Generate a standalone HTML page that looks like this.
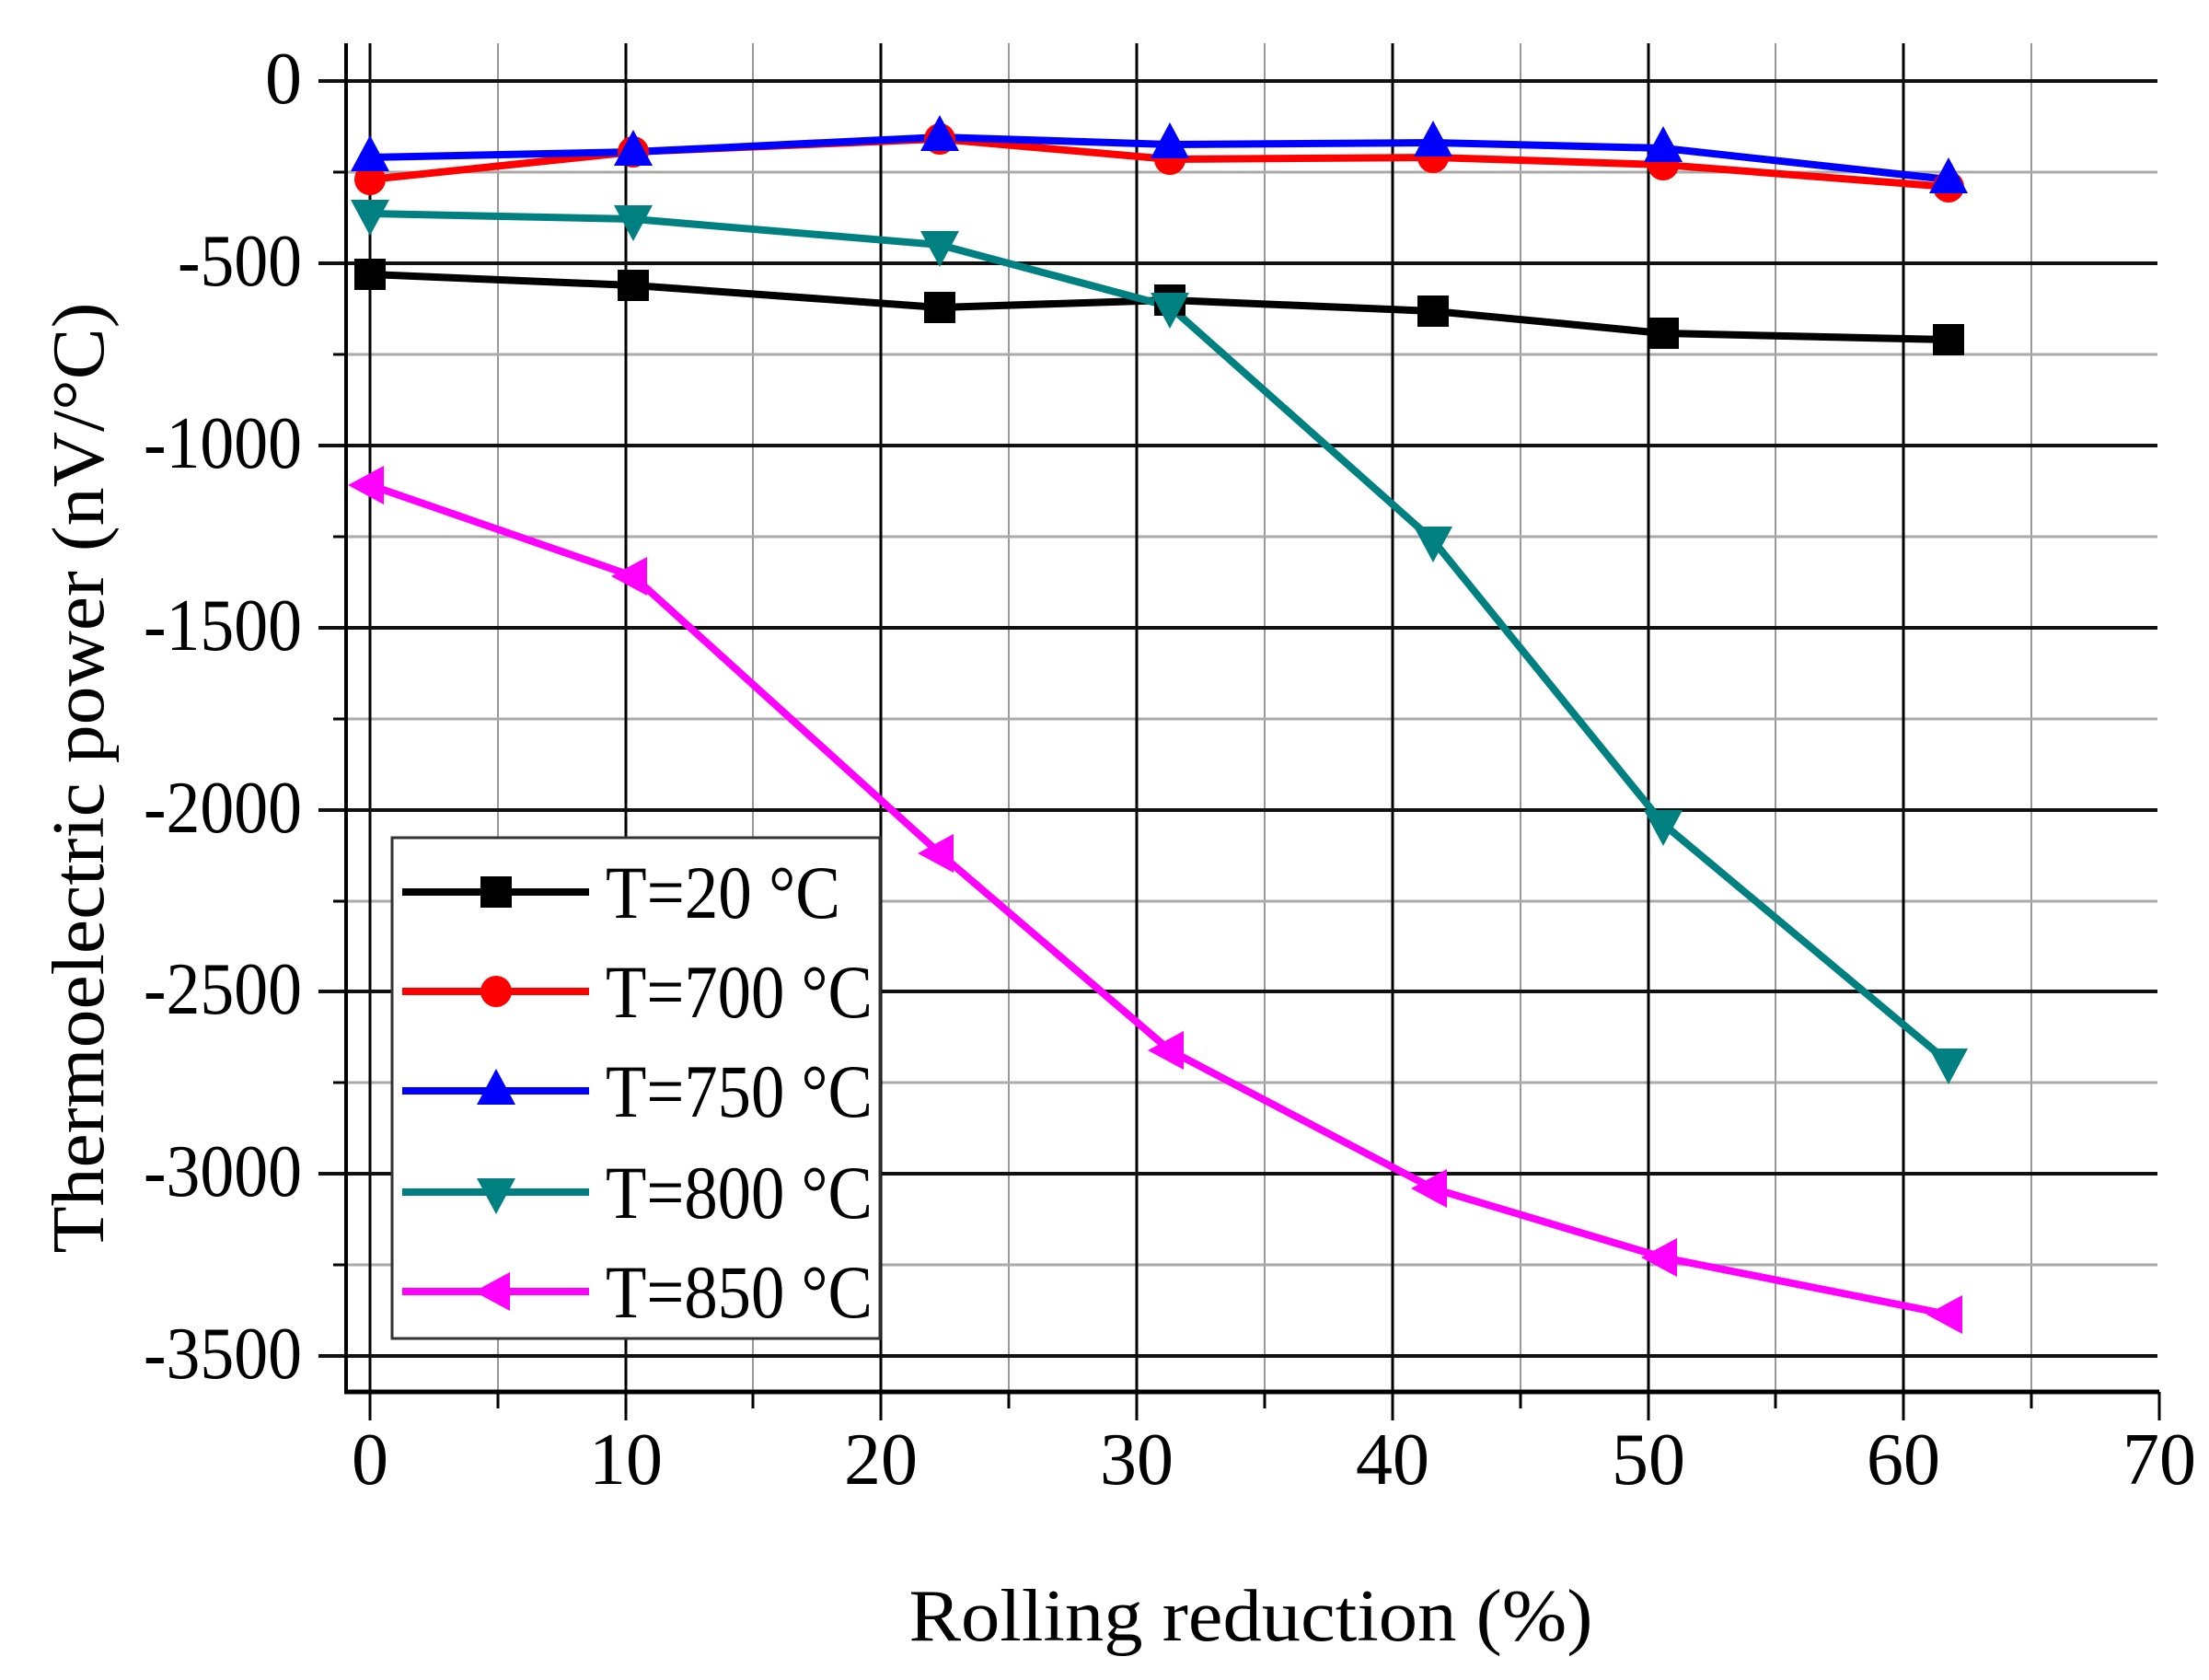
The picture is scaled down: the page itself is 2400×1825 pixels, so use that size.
<!DOCTYPE html>
<html><head><meta charset="utf-8"><style>html,body{margin:0;padding:0;background:#fff}svg{display:block}</style></head><body>
<svg width="2400" height="1825" viewBox="0 0 2400 1825" xmlns="http://www.w3.org/2000/svg" font-family="Liberation Serif, serif">
<defs>
<g id="sq"><rect x="-17" y="-17" width="34" height="34" fill="#000"/></g>
<g id="ci"><ellipse cx="0" cy="0" rx="17" ry="17" fill="#f00"/></g>
<g id="tu"><polygon points="0,-24 21,15 -21,15" fill="#00f"/></g>
<g id="td"><polygon points="0,24 21,-15 -21,-15" fill="#008080"/></g>
<g id="tl"><polygon points="-24,0 15,-21 15,21" fill="#f0f"/></g>
</defs>
<g id="grid">
<g stroke="#999" stroke-width="2">
<line x1="541" y1="47" x2="541" y2="1512"/><line x1="818" y1="47" x2="818" y2="1512"/><line x1="1096" y1="47" x2="1096" y2="1512"/><line x1="1374" y1="47" x2="1374" y2="1512"/><line x1="1652" y1="47" x2="1652" y2="1512"/><line x1="1929" y1="47" x2="1929" y2="1512"/><line x1="2207" y1="47" x2="2207" y2="1512"/>
</g>
<g stroke="#aaa" stroke-width="3">
<line x1="376" y1="187" x2="2344" y2="187"/><line x1="376" y1="385" x2="2344" y2="385"/><line x1="376" y1="583" x2="2344" y2="583"/><line x1="376" y1="781" x2="2344" y2="781"/><line x1="376" y1="979" x2="2344" y2="979"/><line x1="376" y1="1176" x2="2344" y2="1176"/><line x1="376" y1="1374" x2="2344" y2="1374"/>
</g>
<g stroke="#000" stroke-width="3">
<line x1="402" y1="47" x2="402" y2="1543"/><line x1="680" y1="47" x2="680" y2="1543"/><line x1="957" y1="47" x2="957" y2="1543"/><line x1="1235" y1="47" x2="1235" y2="1543"/><line x1="1513" y1="47" x2="1513" y2="1543"/><line x1="1791" y1="47" x2="1791" y2="1543"/><line x1="2068" y1="47" x2="2068" y2="1543"/><line x1="2346" y1="1512" x2="2346" y2="1543"/>
</g>
<g stroke="#000" stroke-width="3">
<line x1="541" y1="1512" x2="541" y2="1530"/><line x1="818" y1="1512" x2="818" y2="1530"/><line x1="1096" y1="1512" x2="1096" y2="1530"/><line x1="1374" y1="1512" x2="1374" y2="1530"/><line x1="1652" y1="1512" x2="1652" y2="1530"/><line x1="1929" y1="1512" x2="1929" y2="1530"/><line x1="2207" y1="1512" x2="2207" y2="1530"/>
</g>
<g stroke="#111" stroke-width="4">
<line x1="346" y1="88" x2="2344" y2="88"/><line x1="346" y1="286" x2="2344" y2="286"/><line x1="346" y1="484" x2="2344" y2="484"/><line x1="346" y1="682" x2="2344" y2="682"/><line x1="346" y1="880" x2="2344" y2="880"/><line x1="346" y1="1077" x2="2344" y2="1077"/><line x1="346" y1="1275" x2="2344" y2="1275"/><line x1="346" y1="1473" x2="2344" y2="1473"/>
</g>
<g stroke="#000" stroke-width="3">
<line x1="362" y1="187" x2="376" y2="187"/><line x1="362" y1="385" x2="376" y2="385"/><line x1="362" y1="583" x2="376" y2="583"/><line x1="362" y1="781" x2="376" y2="781"/><line x1="362" y1="979" x2="376" y2="979"/><line x1="362" y1="1176" x2="376" y2="1176"/><line x1="362" y1="1374" x2="376" y2="1374"/>
</g>
<line x1="376" y1="47" x2="376" y2="1514" stroke="#000" stroke-width="4"/>
<line x1="374" y1="1512" x2="2346" y2="1512" stroke="#000" stroke-width="5"/>
</g>
<g fill="none" stroke-width="8" stroke-linejoin="round">
<polyline stroke="#000" points="402,298 688,310 1021,334 1271,326 1557,338 1807,362 2117,369"/>
<polyline stroke="#f00" points="402,195 688,165 1021,151 1271,173 1557,171 1807,179 2117,203"/>
<polyline stroke="#00f" points="402,171 688,165 1021,149 1271,157 1557,155 1807,161 2117,195"/>
<polyline stroke="#008080" points="402,232 688,238 1021,266 1271,333 1557,587 1807,895 2117,1154"/>
<polyline stroke="#f0f" points="402,527 688,626 1021,927 1271,1141 1557,1291 1807,1366 2117,1428"/>
</g>
<g>
<use href="#sq" x="402" y="298"/><use href="#sq" x="688" y="310"/><use href="#sq" x="1021" y="334"/><use href="#sq" x="1271" y="326"/><use href="#sq" x="1557" y="338"/><use href="#sq" x="1807" y="362"/><use href="#sq" x="2117" y="369"/>
<use href="#ci" x="402" y="195"/><use href="#ci" x="688" y="165"/><use href="#ci" x="1021" y="151"/><use href="#ci" x="1271" y="173"/><use href="#ci" x="1557" y="171"/><use href="#ci" x="1807" y="179"/><use href="#ci" x="2117" y="203"/>
<use href="#tu" x="402" y="171"/><use href="#tu" x="688" y="165"/><use href="#tu" x="1021" y="149"/><use href="#tu" x="1271" y="157"/><use href="#tu" x="1557" y="155"/><use href="#tu" x="1807" y="161"/><use href="#tu" x="2117" y="195"/>
<use href="#td" x="402" y="232"/><use href="#td" x="688" y="238"/><use href="#td" x="1021" y="266"/><use href="#td" x="1271" y="333"/><use href="#td" x="1557" y="587"/><use href="#td" x="1807" y="895"/><use href="#td" x="2117" y="1154"/>
<use href="#tl" x="402" y="527"/><use href="#tl" x="688" y="626"/><use href="#tl" x="1021" y="927"/><use href="#tl" x="1271" y="1141"/><use href="#tl" x="1557" y="1291"/><use href="#tl" x="1807" y="1366"/><use href="#tl" x="2117" y="1428"/>
</g>
<rect x="426" y="910" width="530" height="544" fill="#fff" stroke="#333" stroke-width="3"/>
<g stroke-width="8">
<line x1="437" y1="969" x2="640" y2="969" stroke="#000"/>
<line x1="437" y1="1077" x2="640" y2="1077" stroke="#f00"/>
<line x1="437" y1="1185" x2="640" y2="1185" stroke="#00f"/>
<line x1="437" y1="1295" x2="640" y2="1295" stroke="#008080"/>
<line x1="437" y1="1403" x2="640" y2="1403" stroke="#f0f"/>
</g>
<use href="#sq" x="539" y="969"/><use href="#ci" x="539" y="1077"/><use href="#tu" x="539" y="1185"/><use href="#td" x="539" y="1295"/><use href="#tl" x="539" y="1403"/>
<g font-size="82" fill="#000">
<text x="658" y="997" textLength="255" lengthAdjust="spacingAndGlyphs">T=20 °C</text>
<text x="658" y="1105" textLength="290" lengthAdjust="spacingAndGlyphs">T=700 °C</text>
<text x="658" y="1213" textLength="290" lengthAdjust="spacingAndGlyphs">T=750 °C</text>
<text x="658" y="1323" textLength="290" lengthAdjust="spacingAndGlyphs">T=800 °C</text>
<text x="658" y="1431" textLength="290" lengthAdjust="spacingAndGlyphs">T=850 °C</text>
</g>
<g font-size="80" fill="#000" text-anchor="end" lengthAdjust="spacingAndGlyphs">
<text x="328" y="112">0</text>
<text x="328" y="310" textLength="135" lengthAdjust="spacingAndGlyphs">-500</text>
<text x="328" y="508" textLength="172" lengthAdjust="spacingAndGlyphs">-1000</text>
<text x="328" y="706" textLength="172" lengthAdjust="spacingAndGlyphs">-1500</text>
<text x="328" y="904" textLength="172" lengthAdjust="spacingAndGlyphs">-2000</text>
<text x="328" y="1101" textLength="172" lengthAdjust="spacingAndGlyphs">-2500</text>
<text x="328" y="1299" textLength="172" lengthAdjust="spacingAndGlyphs">-3000</text>
<text x="328" y="1497" textLength="172" lengthAdjust="spacingAndGlyphs">-3500</text>
</g>
<g font-size="80" fill="#000" text-anchor="middle">
<text x="402" y="1612">0</text><text x="680" y="1612">10</text><text x="957" y="1612">20</text><text x="1235" y="1612">30</text><text x="1513" y="1612">40</text><text x="1791" y="1612">50</text><text x="2068" y="1612">60</text><text x="2346" y="1612">70</text>
</g>
<text x="1359" y="1782" font-size="80" text-anchor="middle" textLength="743" lengthAdjust="spacingAndGlyphs">Rolling reduction (%)</text>
<text transform="translate(112,845) rotate(-90)" font-size="80" text-anchor="middle" textLength="1033" lengthAdjust="spacingAndGlyphs">Thermoelectric power (nV/°C)</text>
</svg>
</body></html>
